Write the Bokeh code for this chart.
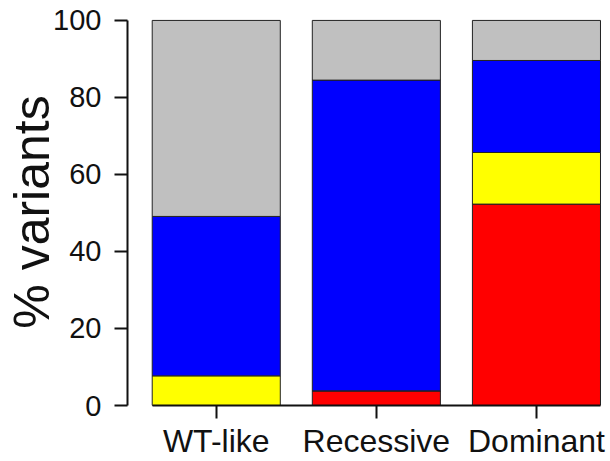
from bokeh.plotting import figure
from bokeh.models import Range1d, FixedTicker
from bokeh.embed import file_html
from bokeh.resources import INLINE

# ---- data ----
categories = ["WT-like", "Recessive", "Dominant"]
red = [0.0, 3.8, 52.3]
yellow = [7.7, 0.0, 13.4]
blue = [41.4, 80.7, 23.9]
gray = [50.9, 15.5, 10.4]
y_ticks = [0, 20, 40, 60, 80, 100]

series = ["red", "yellow", "blue", "gray"]
colors = ["#FF0000", "#FFFF00", "#0000FF", "#C0C0C0"]
xs = [i + 1 for i in range(len(categories))]

source = dict(x=xs, red=red, yellow=yellow, blue=blue, gray=gray)

FONT = "Liberation Sans"

p = figure(width=608, height=461, output_backend="svg", toolbar_location=None,
           x_range=Range1d(0.4457, 3.4313), y_range=Range1d(0, 100.5),
           min_border_left=127, min_border_right=3, min_border_top=18,
           min_border_bottom=56)

p.vbar_stack(series, x="x", width=0.8, source=source, color=colors,
             line_color="#222222", line_width=1)

p.xgrid.visible = False
p.ygrid.visible = False
p.outline_line_color = None
p.background_fill_color = "white"
p.border_fill_color = "white"

# y axis
yax = p.yaxis[0]
yax.ticker = FixedTicker(ticks=y_ticks)
yax.bounds = (0, 100)
yax.minor_tick_line_color = None
yax.major_tick_in = 0
yax.major_tick_out = 13
yax.major_tick_line_width = 2
yax.axis_line_width = 2
yax.axis_line_color = "#111111"
yax.major_tick_line_color = "#111111"
yax.major_label_standoff = 13
yax.major_label_text_font = FONT
yax.major_label_text_font_size = "29px"
yax.major_label_text_color = "#111111"
yax.axis_label = "% variants"
yax.axis_label_text_font = FONT
yax.axis_label_text_font_size = "50px"
yax.axis_label_text_font_style = "normal"
yax.axis_label_text_color = "#111111"
yax.axis_label_standoff = -10

# x axis
xax = p.xaxis[0]
xax.ticker = FixedTicker(ticks=xs)
xax.major_label_overrides = {x: c for x, c in zip(xs, categories)}
xax.bounds = (0.6, 3.4)
xax.minor_tick_line_color = None
xax.major_tick_in = 0
xax.major_tick_out = 13
xax.major_tick_line_width = 2
xax.axis_line_width = 2
xax.axis_line_color = "#111111"
xax.major_tick_line_color = "#111111"
xax.major_label_standoff = 4
xax.major_label_text_font = FONT
xax.major_label_text_font_size = "32px"
xax.major_label_text_color = "#111111"

open("out.html", "w").write(file_html(p, INLINE))
